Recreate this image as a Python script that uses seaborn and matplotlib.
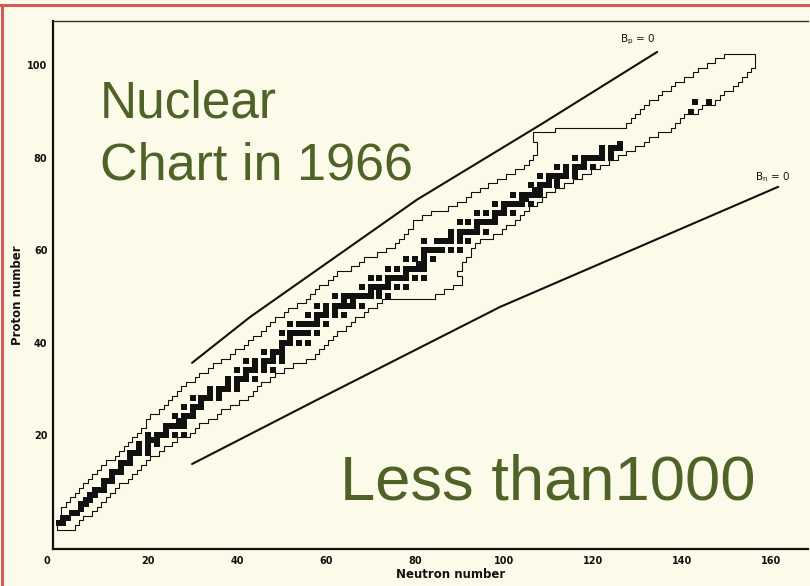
import numpy as np
import pandas as pd
import matplotlib
matplotlib.use("Agg")
import matplotlib.pyplot as plt
from matplotlib.lines import Line2D
import seaborn as sns

# ---------------------------------------------------------------------------
# Data
# ---------------------------------------------------------------------------
# Proton numbers of the rows of the chart
Z_ROWS = list(range(0, 103))

# Lightest known neutron number for each proton number (proton-rich edge)
N_MIN = [0, 0, 1, 1, 1, 2, 3, 4, 5, 6,
         7, 8, 9, 10, 11, 13, 14, 15, 16, 17,
         18, 19, 20, 20, 21, 23, 24, 25, 26, 27,
         28, 29, 31, 32, 34, 35, 37, 39, 40, 42,
         43, 44, 46, 47, 48, 49, 51, 52, 54, 56,
         57, 58, 59, 61, 62, 63, 66, 68, 69, 72,
         74, 76, 77, 78, 79, 80, 80, 82, 84, 88,
         90, 92, 93, 95, 97, 99, 101, 103, 105, 106,
         107, 108, 108, 108, 107, 107, 112, 128, 129, 130,
         131, 132, 133, 135, 136, 138, 139, 141, 143, 144,
         146, 148, 150]

# Heaviest known neutron number for each proton number (neutron-rich edge)
N_MAX = [3, 4, 5, 7, 8, 9, 10, 11, 12, 13,
         15, 16, 17, 18, 19, 20, 22, 23, 25, 26,
         29, 30, 31, 33, 35, 36, 38, 40, 42, 43,
         44, 45, 47, 48, 50, 52, 55, 57, 58, 59,
         60, 61, 62, 64, 65, 66, 68, 69, 71, 72,
         84, 86, 88, 90, 90, 89, 90, 90, 91, 92,
         92, 93, 94, 97, 99, 100, 102, 103, 104, 105,
         107, 108, 109, 111, 113, 115, 117, 119, 121, 123,
         125, 127, 129, 131, 132, 134, 137, 138, 139, 140,
         143, 144, 147, 148, 149, 151, 152, 153, 154, 155,
         156, 156, 156]

# Stable (and primordial) nuclides: mass numbers per element, Z = 1 ... 83
STABLE_A = [
    (1, 2), (3, 4), (6, 7), (9,), (10, 11), (12, 13), (14, 15), (16, 17, 18),
    (19,), (20, 21, 22), (23,), (24, 25, 26), (27,), (28, 29, 30), (31,),
    (32, 33, 34, 36), (35, 37), (36, 38, 40), (39, 40, 41),
    (40, 42, 43, 44, 46, 48), (45,), (46, 47, 48, 49, 50), (50, 51),
    (50, 52, 53, 54), (55,), (54, 56, 57, 58), (59,), (58, 60, 61, 62, 64),
    (63, 65), (64, 66, 67, 68, 70), (69, 71), (70, 72, 73, 74, 76), (75,),
    (74, 76, 77, 78, 80, 82), (79, 81), (78, 80, 82, 83, 84, 86), (85, 87),
    (84, 86, 87, 88), (89,), (90, 91, 92, 94, 96), (93,),
    (92, 94, 95, 96, 97, 98, 100), (), (96, 98, 99, 100, 101, 102, 104),
    (103,), (102, 104, 105, 106, 108, 110), (107, 109),
    (106, 108, 110, 111, 112, 113, 114, 116), (113, 115),
    (112, 114, 115, 116, 117, 118, 119, 120, 122, 124), (121, 123),
    (120, 122, 123, 124, 125, 126, 128, 130), (127,),
    (124, 126, 128, 129, 130, 131, 132, 134, 136), (133,),
    (130, 132, 134, 135, 136, 137, 138), (138, 139), (136, 138, 140, 142),
    (141,), (142, 143, 144, 145, 146, 148, 150), (),
    (144, 147, 148, 149, 150, 152, 154), (151, 153),
    (152, 154, 155, 156, 157, 158, 160), (159,),
    (156, 158, 160, 161, 162, 163, 164), (165,),
    (162, 164, 166, 167, 168, 170), (169,),
    (168, 170, 171, 172, 173, 174, 176), (175, 176),
    (174, 176, 177, 178, 179, 180), (180, 181), (180, 182, 183, 184, 186),
    (185, 187), (184, 186, 187, 188, 189, 190, 192), (191, 193),
    (190, 192, 194, 195, 196, 198), (197,),
    (196, 198, 199, 200, 201, 202, 204), (203, 205), (204, 206, 207, 208),
    (209,),
]
# Long-lived actinides (thorium, uranium)
ACTINIDE_Z = [90, 92, 92]
ACTINIDE_N = [142, 143, 146]

# Drip lines
BP_N = [29.9, 42.9, 80.4, 108.1, 134.4]
BP_Z = [35.6, 45.5, 70.9, 87.1, 102.9]
BN_N = [29.9, 58.0, 99.1, 161.6]
BN_Z = [13.7, 27.6, 47.7, 73.7]

X_TICKS = [20, 40, 60, 80, 100, 120, 140, 160]
Y_TICKS = [20, 40, 60, 80, 100]

# ---------------------------------------------------------------------------
# Tables
# ---------------------------------------------------------------------------
stable_rows = []
for z, masses in enumerate(STABLE_A, start=1):
    for a in masses:
        stable_rows.append({"N": a - z, "Z": z})
for z, n in zip(ACTINIDE_Z, ACTINIDE_N):
    stable_rows.append({"N": n, "Z": z})
stable = pd.DataFrame(stable_rows)

# Step outline around the known nuclides
ox, oy = [], []
for z, lo in zip(Z_ROWS, N_MIN):
    ox += [lo - 0.5, lo - 0.5]
    oy += [z - 0.5, z + 0.5]
for z, hi in zip(Z_ROWS[::-1], N_MAX[::-1]):
    ox += [hi + 0.5, hi + 0.5]
    oy += [z + 0.5, z - 0.5]
ox.append(ox[0])
oy.append(oy[0])
outline = pd.DataFrame({"N": ox, "Z": oy})

bp = pd.DataFrame({"N": BP_N, "Z": BP_Z})
bn = pd.DataFrame({"N": BN_N, "Z": BN_Z})

# ---------------------------------------------------------------------------
# Figure
# ---------------------------------------------------------------------------
sns.set_theme(style="white")
plt.rcParams["font.family"] = ["DejaVu Sans"]

BG = "#fcfae8"
INK = "#111111"
OLIVE = "#4f6228"

W, H = 810, 586
fig = plt.figure(figsize=(W / 100, H / 100), dpi=100, facecolor=BG)
ax = fig.add_axes([53 / W, 1 - 549 / H, (808 - 53) / W, (549 - 21) / H])
ax.set_facecolor(BG)

sns.lineplot(data=outline, x="N", y="Z", sort=False, estimator=None,
             color=INK, linewidth=0.8, ax=ax)
sns.scatterplot(data=stable, x="N", y="Z", marker="s", s=16, color=INK,
                linewidth=0, ax=ax, legend=False)
sns.lineplot(data=bp, x="N", y="Z", sort=False, estimator=None,
             color=INK, linewidth=1.5, ax=ax)
sns.lineplot(data=bn, x="N", y="Z", sort=False, estimator=None,
             color=INK, linewidth=1.5, ax=ax)

ax.set_xlim(-1.35, 168.3)
ax.set_ylim(-4.7, 109.6)

ax.set_xticks(X_TICKS)
ax.set_xticklabels([str(t) for t in X_TICKS])
ax.set_yticks(Y_TICKS)
ax.set_yticklabels([str(t) for t in Y_TICKS])
ax.tick_params(axis="x", direction="in", length=9, width=1.0, color=INK,
               pad=5, labelsize=7, labelcolor=INK)
ax.tick_params(axis="y", direction="in", length=5.5, width=1.0, color=INK,
               pad=4, labelsize=7, labelcolor=INK)
for lab in ax.get_xticklabels() + ax.get_yticklabels():
    lab.set_fontweight("bold")
fig.text(47 / W, 1 - 561 / H, "0", ha="center", va="center",
         fontsize=7, fontweight="bold", color=INK)

ax.set_xlabel("")
ax.set_ylabel("")
for side in ("left", "bottom"):
    ax.spines[side].set_linewidth(1.6)
    ax.spines[side].set_color(INK)
ax.spines["top"].set_linewidth(1.0)
ax.spines["top"].set_color("#333333")
ax.spines["right"].set_visible(False)

fig.text(451 / W, 1 - 575 / H, "Neutron number", ha="center", va="center",
         fontsize=8.5, fontweight="bold", color=INK)
fig.text(18 / W, 1 - 295 / H, "Proton number", ha="center", va="center",
         rotation=90, fontsize=8.5, fontweight="bold", color=INK)

ax.text(126, 105.5, r"B$_\mathrm{p}$ = 0", ha="left", va="center",
        fontsize=7.5, color=INK)
ax.text(156.4, 75.7, r"B$_\mathrm{n}$ = 0", ha="left", va="center",
        fontsize=7.5, color=INK)

# Overlaid captions
cap_font = ["Liberation Sans", "DejaVu Sans"]
fig.text(100 / W, 1 - 118 / H, "Nuclear", ha="left", va="baseline",
         fontsize=37, color=OLIVE, family=cap_font)
fig.text(100 / W, 1 - 180 / H, "Chart in 1966", ha="left", va="baseline",
         fontsize=37.5, color=OLIVE, family=cap_font)
fig.text(340 / W, 1 - 500 / H, "Less than1000", ha="left", va="baseline",
         fontsize=45.5, color=OLIVE, family=cap_font)

# Frame lines of the slide
fig.add_artist(Line2D([0, 1], [1 - 5 / H, 1 - 5 / H], transform=fig.transFigure,
                      color="#d25a5c", linewidth=2.2))
fig.add_artist(Line2D([2 / W, 2 / W], [0, 1 - 5 / H], transform=fig.transFigure,
                      color="#d25a5c", linewidth=2.2))

fig.savefig("out.png", dpi=100, facecolor=BG)
